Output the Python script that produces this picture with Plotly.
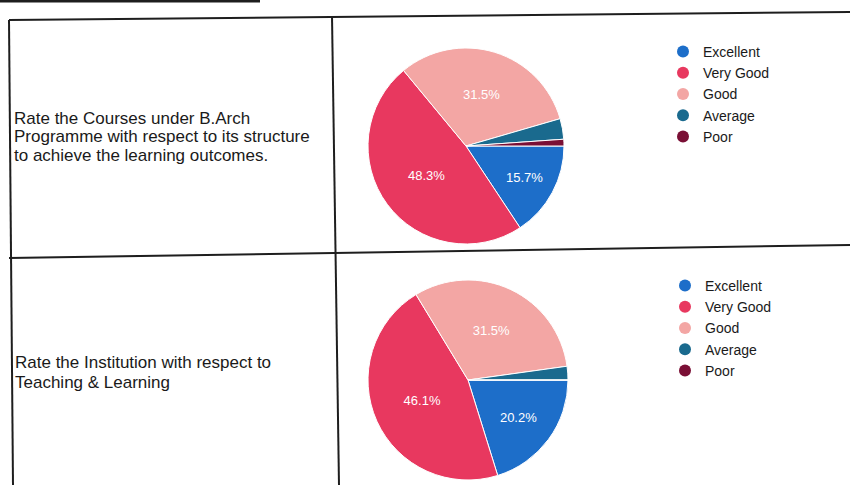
import plotly.graph_objects as go

W, H = 850, 485

# --- data ---
categories = ["Excellent", "Very Good", "Good", "Average", "Poor"]
courses_pct = [15.7, 48.3, 31.5, 3.4, 1.1]
teaching_pct = [20.2, 46.1, 31.5, 2.2, 0.0]
colors = ["#1d6ec9", "#e8385f", "#f3a6a4", "#1a6a8e", "#7a0f35"]

questions = [
    ["Rate the Courses under B.Arch",
     "Programme with respect to its structure",
     "to achieve the learning outcomes."],
    ["Rate the Institution with respect to",
     "Teaching & Learning"],
]


def px2paper(x, y):
    return x / W, 1 - y / H


def pie_domain(cx, cy, r):
    return dict(x=[(cx - r) / W, (cx + r) / W], y=[1 - (cy + r) / H, 1 - (cy - r) / H])


def make_pie(values, domain):
    # Google-forms style: no label on the tiny slices
    pos = ["inside" if v > 5 else "none" for v in values]
    return go.Pie(
        labels=categories,
        values=values,
        sort=False,
        direction="clockwise",
        rotation=90,
        domain=domain,
        marker=dict(colors=colors, line=dict(color="white", width=1)),
        texttemplate="%{percent:.1%}",
        textposition=pos,
        insidetextorientation="horizontal",
        textfont=dict(color="white", size=13, family="Liberation Sans, Arial"),
        showlegend=False,
        hoverinfo="label+percent",
    )


fig = go.Figure()
fig.add_trace(make_pie(courses_pct, pie_domain(466, 146, 98)))
fig.add_trace(make_pie(teaching_pct, pie_domain(468, 380, 100)))

# legends with round markers
for lg in ["legend", "legend2"]:
    for cat, col in zip(categories, colors):
        fig.add_trace(go.Scatter(
            x=[None], y=[None], mode="markers", name=cat,
            marker=dict(color=col, size=12, symbol="circle"),
            legend=lg, showlegend=True,
        ))

# table borders (scanned page, lines slightly skewed)
lines = [
    ((0, 1), (260, 1), 3),
    ((9, 20), (850, 12), 2),
    ((9, 20), (13, 485), 2),
    ((332, 16), (339, 485), 2),
    ((9, 258), (850, 245), 2),
]
shapes = []
for (x0, y0), (x1, y1), w in lines:
    a, b = px2paper(x0, y0)
    c, d = px2paper(x1, y1)
    shapes.append(dict(type="line", xref="paper", yref="paper", x0=a, y0=b, x1=c, y1=d,
                       line=dict(color="#1e1e1e", width=w)))

annotations = []
starts = [(12, 118, 18.5), (13, 362, 20)]
for q, (x, y, step) in zip(questions, starts):
    for i, t in enumerate(q):
        ax, ay = px2paper(x, y + i * step)
        annotations.append(dict(text=t, x=ax, y=ay, xref="paper", yref="paper",
                                xanchor="left", yanchor="middle", showarrow=False,
                                font=dict(size=17, color="#1a1a1a",
                                          family="Liberation Sans, Arial")))

leg_font = dict(size=14, color="#1a1a1a", family="Liberation Sans, Arial")
fig.update_layout(
    width=W, height=H,
    margin=dict(l=0, r=0, t=0, b=0),
    paper_bgcolor="white", plot_bgcolor="white",
    xaxis=dict(visible=False), yaxis=dict(visible=False),
    shapes=shapes, annotations=annotations,
    legend=dict(x=663 / W, y=1 - 36 / H, xanchor="left", yanchor="top",
                font=leg_font, bgcolor="rgba(0,0,0,0)", itemclick=False),
    legend2=dict(x=665 / W, y=1 - 270 / H, xanchor="left", yanchor="top",
                 font=leg_font, bgcolor="rgba(0,0,0,0)", itemclick=False),
)

# page body has an 8px default margin; drop it so the figure fills the window
fig.write_html("out.html", config={"displayModeBar": False},
               post_script="document.body.style.margin='0px';")
